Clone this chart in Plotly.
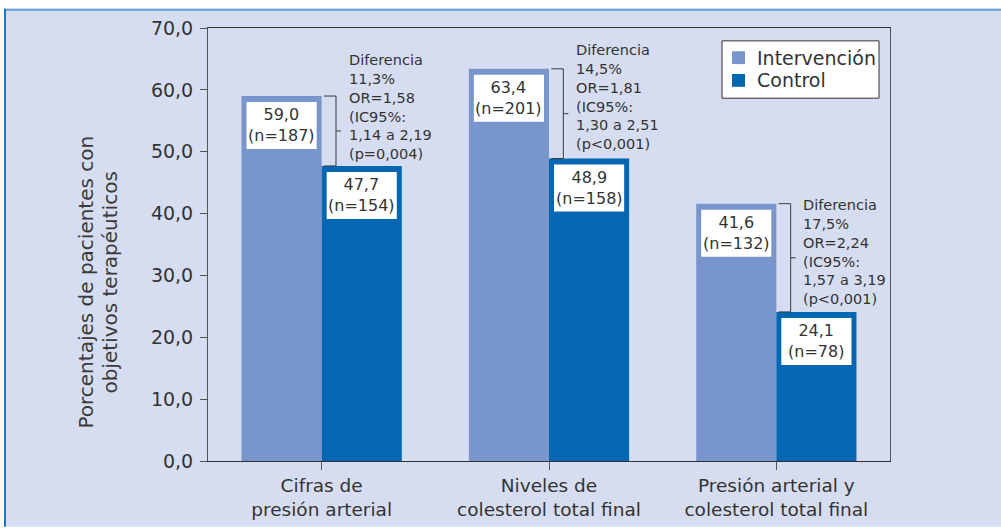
import plotly.graph_objects as go

# ---------------- data ----------------
categories = ["Cifras de<br>presión arterial",
              "Niveles de<br>colesterol total final",
              "Presión arterial y<br>colesterol total final"]
series_names = ["Intervención", "Control"]
intervencion = [59.0, 63.4, 41.6]
control = [47.7, 48.9, 24.1]
n_intervencion = [187, 201, 132]
n_control = [154, 158, 78]
diferencia = ["11,3%", "14,5%", "17,5%"]
odds_ratio = ["1,58", "1,81", "2,24"]
ic95 = ["1,14 a 2,19", "1,30 a 2,51", "1,57 a 3,19"]
p_valor = ["p=0,004", "p&lt;0,001", "p&lt;0,001"]
y_ticks = [0, 10, 20, 30, 40, 50, 60, 70]
y_title = ["Porcentajes de pacientes con", "objetivos terapéuticos"]

# ---------------- style / layout ----------------
C_INT = "#7896cb"
C_CTL = "#0566b1"
BG = "#d7ddf0"
TXT = "#333333"
FONT = "DejaVu Sans, Liberation Sans, sans-serif"
W, H = 1001, 532
PLOT_L, PLOT_R, PLOT_T, PLOT_B = 208, 890, 27.5, 465.5   # pixel box of the plot area
ML, MR, MT, MB = PLOT_L, W - PLOT_R, PLOT_T, H - PLOT_B
PW, PH = PLOT_R - PLOT_L, PLOT_B - PLOT_T
BARGAP = 0.295
note_center = [57.2, 58.8, 33.8]   # vertical placement of the difference notes
LABEL_SIZE = 16
NOTE_SIZE = 14.5


def px_x(p):
    return (p - PLOT_L) / PW


def px_y(p):
    return (PLOT_B - p) / PH


def fmt(v):
    return f"{v:.1f}".replace(".", ",")


def fnt(size, color=TXT):
    return dict(size=size, color=color, family=FONT)


fig = go.Figure()
fig.add_bar(x=list(range(3)), y=intervencion, name=series_names[0],
            marker=dict(color=C_INT, line=dict(width=0)), showlegend=False)
fig.add_bar(x=list(range(3)), y=control, name=series_names[1],
            marker=dict(color=C_CTL, line=dict(width=0)), showlegend=False)

annotations = []
shapes = []

# background panel with blue border lines (top + left), kept inside the figure
shapes.append(dict(type="rect", xref="paper", yref="paper", layer="below",
                   x0=px_x(4), x1=px_x(W), y0=px_y(H), y1=px_y(8),
                   fillcolor=BG, line=dict(width=0)))
shapes.append(dict(type="line", xref="paper", yref="paper", layer="below",
                   x0=px_x(4), x1=px_x(W), y0=px_y(9), y1=px_y(9),
                   line=dict(color="#5c9fdb", width=2)))
shapes.append(dict(type="line", xref="paper", yref="paper", layer="below",
                   x0=px_x(5), x1=px_x(5), y0=px_y(H), y1=px_y(8),
                   line=dict(color="#2176c4", width=2)))

bw = (1 - BARGAP) / 2
pad = 5 / (PW / 3)
for i in range(3):
    for xc, val, n in ((i - bw / 2, intervencion[i], n_intervencion[i]),
                       (i + bw / 2, control[i], n_control[i])):
        shapes.append(dict(type="rect", xref="x", yref="y", ysizemode="pixel",
                           yanchor=val, y0=-6, y1=-53,
                           x0=xc - bw / 2 + pad, x1=xc + bw / 2 - pad,
                           fillcolor="white", line=dict(width=0)))
        annotations.append(dict(x=xc, y=val, xref="x", yref="y",
                                text=f"{fmt(val)}<br>(n={n})",
                                showarrow=False, yanchor="middle", yshift=-29,
                                font=fnt(LABEL_SIZE)))
    # bracket
    xa, xb, xt = i + 0.01, i + 0.063, i + 0.085
    lc = dict(color="#3a3a3a", width=1)
    shapes.append(dict(type="line", xref="x", yref="y", x0=xa, x1=xb,
                       y0=intervencion[i], y1=intervencion[i], line=lc))
    shapes.append(dict(type="line", xref="x", yref="y", x0=xa, x1=xb,
                       y0=control[i], y1=control[i], line=lc))
    shapes.append(dict(type="line", xref="x", yref="y", x0=xb, x1=xb,
                       y0=control[i], y1=intervencion[i], line=lc))
    mid = (intervencion[i] + control[i]) / 2
    shapes.append(dict(type="line", xref="x", yref="y", x0=xb, x1=xt,
                       y0=mid, y1=mid, line=lc))
    note = ["Diferencia", diferencia[i], f"OR={odds_ratio[i]}", "(IC95%:",
            ic95[i], f"({p_valor[i]})"]
    annotations.append(dict(x=i + 0.11, y=note_center[i], xref="x", yref="y",
                            text="<br>".join(note), showarrow=False,
                            xanchor="left", yanchor="middle", align="left",
                            font=fnt(NOTE_SIZE)))

# y axis title (two lines)
for line, xpx in zip(y_title, (86, 110)):
    annotations.append(dict(x=px_x(xpx), y=px_y(285), xref="paper", yref="paper",
                            text=line, textangle=-90, showarrow=False,
                            xanchor="center", yanchor="middle",
                            font=fnt(20, "#3a3a3a")))

# legend (drawn box)
shapes.append(dict(type="rect", xref="paper", yref="paper",
                   x0=px_x(722), x1=px_x(879), y0=px_y(98.5), y1=px_y(40.5),
                   fillcolor="white", line=dict(color="#333333", width=1)))
for k, (name, col) in enumerate(zip(series_names, (C_INT, C_CTL))):
    yc = 57.5 + 23 * k
    shapes.append(dict(type="rect", xref="paper", yref="paper",
                       x0=px_x(732), x1=px_x(745), y0=px_y(yc + 6.5), y1=px_y(yc - 6.5),
                       fillcolor=col, line=dict(width=0)))
    annotations.append(dict(x=px_x(755), y=px_y(yc), xref="paper", yref="paper",
                            text=name, showarrow=False, xanchor="left", yanchor="middle",
                            font=fnt(19)))

fig.update_layout(
    width=W, height=H,
    margin=dict(l=ML, r=MR, t=MT, b=MB),
    paper_bgcolor="white", plot_bgcolor="white",
    barmode="group", bargap=BARGAP, bargroupgap=0,
    separators=",.",
    font=fnt(14),
    showlegend=False,
    shapes=shapes, annotations=annotations,
)
fig.update_xaxes(tickmode="array", tickvals=list(range(3)), ticktext=categories,
                 range=[-0.5, 2.5], showline=True, linecolor="#333333", linewidth=1,
                 mirror=True, ticks="outside", ticklen=8, tickcolor="#555555",
                 tickson="boundaries",
                 showgrid=False, zeroline=False,
                 tickfont=fnt(18.5))
fig.update_yaxes(range=[0, 70], tickvals=y_ticks, tickformat=".1f",
                 showline=True, linecolor="#555555", linewidth=1, mirror=True,
                 ticks="outside", ticklen=7, tickcolor="#555555",
                 ticklabelstandoff=3,
                 showgrid=False, zeroline=False,
                 tickfont=fnt(19))

fig.write_html("out.html",
               config={"displayModeBar": False},
               post_script="document.body.style.margin='0px';"
                           "document.body.style.overflow='hidden';")
